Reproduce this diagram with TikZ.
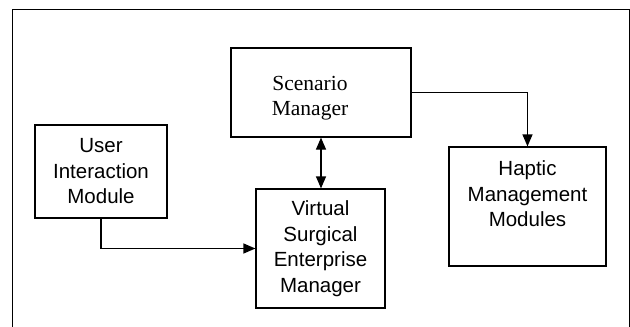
\documentclass[tikz,border=0pt]{standalone}
\usepackage{fontspec}
\setmainfont{Liberation Sans}
\newfontfamily\scenfont{Liberation Serif}
\usetikzlibrary{arrows.meta}

\begin{document}
\begin{tikzpicture}[x=1pt,y=-1pt,line width=1.2pt]

      \useasboundingbox (0,0) rectangle (630,327);
      \draw[line width=1pt] (12,340) -- (12,9) -- (629,9) -- (629,340);

      \begin{scope}[every node/.style={draw,rectangle,align=center,inner sep=0pt,
          font=\fontsize{20.5}{25.5}\selectfont}]
        \node[minimum width=180pt,minimum height=89pt] (1) at (321,92.5) {};
        \node[minimum width=132pt,minimum height=93pt] (2) at (101,171.5)
          {User\\Interaction\\Module};
        \node[minimum width=129pt,minimum height=119pt] (3) at (320.5,248.5)
          {Virtual\\Surgical\\Enterprise\\Manager};
        \node[minimum width=157pt,minimum height=119pt] (4) at (527.5,206.5)
          {Haptic\\Management\\Modules\\~};
      \end{scope}

      % serif caption, set left of the box centre
      \node[align=center,inner sep=0pt,font=\scenfont\fontsize{21.5}{25}\selectfont]
        (1t) at (310,98) {Scenario\\Manager};

      \begin{scope}[>={Triangle[length=12pt,width=10pt]}]
        \draw[<->] (1.south) -- (1.south |- 3.north);
        \draw[->] (1.east) -| (4.north);
        \draw[->] (2.south) |- (3.west);
      \end{scope}

    \end{tikzpicture}
\end{document}
